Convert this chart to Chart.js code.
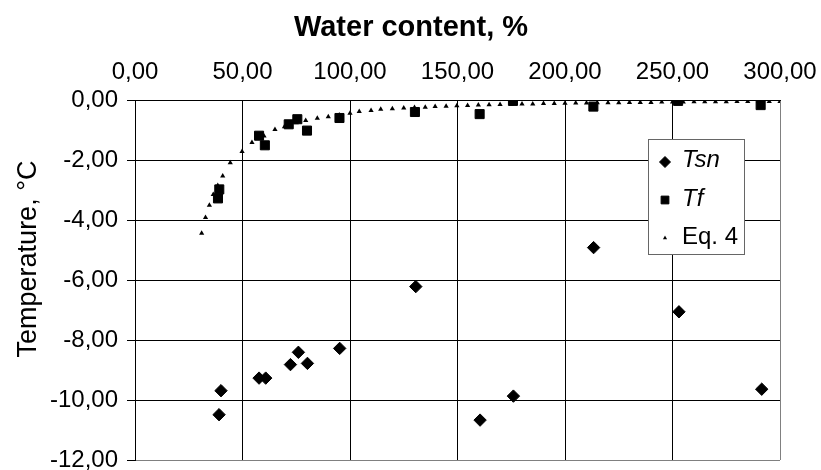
<!DOCTYPE html>
<html><head><meta charset="utf-8">
<script src="https://cdn.jsdelivr.net/npm/chart.js@4/dist/chart.umd.min.js"></script>
<style>html,body{margin:0;padding:0;background:#fff}</style>
</head><body>
<canvas id="c" width="821" height="470"></canvas>
<script>
// ---- data ----
const xTicks = [0, 50, 100, 150, 200, 250, 300];
const yTicks = [0, -2, -4, -6, -8, -10, -12];

const tsnX = [39.1, 40.0, 57.7, 60.8, 72.3, 76.0, 80.2, 95.2, 130.6, 160.5, 176.0, 213.3, 253.0, 291.5];
const tsnY = [-10.49, -9.69, -9.27, -9.27, -8.82, -8.41, -8.78, -8.28, -6.22, -10.67, -9.87, -4.92, -7.06, -9.64];

const tfX = [38.6, 39.2, 57.7, 60.4, 71.5, 75.5, 80.0, 95.1, 130.2, 160.3, 175.8, 213.2, 252.6, 291.0];
const tfY = [-3.28, -2.98, -1.19, -1.51, -0.81, -0.64, -1.02, -0.60, -0.40, -0.47, -0.03, -0.22, -0.03, -0.17];

const eqX = [31.0, 32.8, 34.6, 36.4, 38.5, 40.8, 44.3, 49.8, 54.4, 60.0, 65.1, 69.5, 75.0, 79.4, 84.8, 89.9, 95.0, 100.0,
  104.3, 109.8, 114.3, 119.7, 125.0, 130.0, 135.0, 139.6, 144.7, 149.7, 154.7, 159.7, 164.7, 169.8, 175.0, 180.0,
  185.0, 190.0, 195.0, 200.0, 205.0, 210.0, 215.0, 220.0, 225.0, 230.0, 235.0, 240.0, 245.0, 250.0, 255.0, 260.0,
  265.0, 270.0, 275.0, 280.0, 285.0, 290.0, 295.0, 300.0];
const eqY = [-4.44, -3.92, -3.51, -3.15, -2.85, -2.53, -2.09, -1.72, -1.42, -1.20, -0.98, -0.89, -0.76, -0.68, -0.61, -0.56, -0.50, -0.44,
  -0.38, -0.35, -0.31, -0.29, -0.27, -0.25, -0.24, -0.22, -0.21, -0.19, -0.18, -0.17, -0.16, -0.15, -0.14, -0.13,
  -0.13, -0.12, -0.12, -0.11, -0.10, -0.10, -0.09, -0.09, -0.09, -0.08, -0.08, -0.08, -0.07, -0.07, -0.07, -0.06,
  -0.06, -0.06, -0.06, -0.05, -0.05, -0.05, -0.05, -0.05];

const seriesNames = ['Tsn', 'Tf', 'Eq. 4'];
const xTitle = 'Water content, %';
const yTitle = 'Temperature, °C';
// ---------------------------------------

const FONT = "'Liberation Sans', Arial, sans-serif";
const pts = (xs, ys) => xs.map((x, i) => ({x: x, y: ys[i]}));
const fmt = v => Number(v).toFixed(2).replace('.', ',');

const titlesPlugin = {
  id: 'axisTitles',
  afterDraw(chart) {
    const ctx = chart.ctx;
    ctx.save();
    ctx.fillStyle = '#000';
    ctx.textAlign = 'center';
    ctx.textBaseline = 'middle';
    ctx.font = 'bold 29px ' + FONT;
    ctx.fillText(xTitle, 411, 28);
    ctx.translate(29, 259);
    ctx.rotate(-Math.PI / 2);
    ctx.font = '27px ' + FONT;
    ctx.fillText(yTitle, 0, 0);
    ctx.restore();
  }
};

const legendPlugin = {
  id: 'boxLegend',
  afterDraw(chart) {
    const ctx = chart.ctx;
    const bx = 648.5, by = 139.5, bw = 96, bh = 115;
    ctx.save();
    ctx.fillStyle = '#fff';
    ctx.fillRect(bx, by, bw, bh);
    ctx.strokeStyle = '#666';
    ctx.lineWidth = 1;
    ctx.strokeRect(bx, by, bw, bh);
    const rows = [
      {my: 162, ty: 167, italic: true, r: 5.5},
      {my: 200, ty: 206, italic: true, r: 5.5},
      {my: 238, ty: 244, italic: false, r: 2.4}
    ];
    chart.data.datasets.forEach((ds, i) => {
      const row = rows[i];
      ctx.fillStyle = '#000';
      ctx.strokeStyle = '#000';
      ctx.lineWidth = ds.pointBorderWidth;
      Chart.helpers.drawPoint(ctx, {pointStyle: ds.pointStyle, rotation: 0, radius: row.r, borderWidth: ds.pointBorderWidth}, 665, row.my);
      ctx.fillStyle = '#000';
      ctx.font = (row.italic ? 'italic ' : '') + '24px ' + FONT;
      ctx.textBaseline = 'alphabetic';
      ctx.textAlign = 'left';
      ctx.fillText(ds.label, 682, row.ty);
    });
    ctx.restore();
  }
};

new Chart(document.getElementById('c'), {
  type: 'scatter',
  data: {
    datasets: [
      {label: seriesNames[0], data: pts(tsnX, tsnY), pointStyle: 'rectRot', pointRadius: 6.2,
       backgroundColor: '#000', borderColor: '#000', pointBorderWidth: 1, order: 1},
      {label: seriesNames[1], data: pts(tfX, tfY), pointStyle: 'rect', pointRadius: 6.4,
       backgroundColor: '#000', borderColor: '#000', pointBorderWidth: 1, order: 2},
      {label: seriesNames[2], data: pts(eqX, eqY), pointStyle: 'triangle', pointRadius: 3,
       backgroundColor: '#000', borderColor: '#000', pointBorderWidth: 0, order: 3}
    ]
  },
  options: {
    responsive: false,
    animation: false,
    devicePixelRatio: 1,
    layout: {padding: {left: 0, top: 0, right: 41, bottom: 10}},
    plugins: {legend: {display: false}, tooltip: {enabled: false}},
    scales: {
      x: {
        type: 'linear', position: 'top', min: 0, max: 300,
        afterBuildTicks: s => { s.ticks = xTicks.map(v => ({value: v})); },
        afterFit: s => { s.height = 100; s.paddingRight = 0; s.paddingLeft = 0; },
        ticks: {callback: v => fmt(v), color: '#000', font: {family: FONT, size: 24}, padding: 13, maxRotation: 0, autoSkip: false},
        grid: {color: c => (c.tick && c.tick.value === 300) ? '#808080' : '#000', drawTicks: false, lineWidth: 1},
        border: {display: true, color: '#000', width: 1},
        title: {display: false}
      },
      y: {
        type: 'linear', position: 'left', min: -12, max: 0,
        afterBuildTicks: s => { s.ticks = yTicks.map(v => ({value: v})); },
        afterFit: s => { s.width = 135; s.paddingTop = 0; s.paddingBottom = 0; },
        ticks: {callback: v => fmt(v), color: '#000', font: {family: FONT, size: 24}, padding: 9, autoSkip: false},
        grid: {color: c => (c.tick && c.tick.value === -12) ? '#808080' : '#000', drawTicks: true, tickLength: 8, tickColor: '#000', lineWidth: 1},
        border: {display: true, color: '#000', width: 1},
        title: {display: false}
      }
    }
  },
  plugins: [titlesPlugin, legendPlugin]
});
</script>
</body></html>
